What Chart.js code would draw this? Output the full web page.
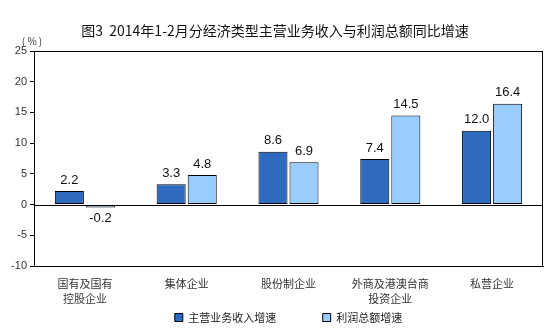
<!DOCTYPE html>
<html>
<head>
<meta charset="utf-8">
<script src="https://cdn.jsdelivr.net/npm/chart.js@4/dist/chart.umd.min.js"></script>
<style>
  html, body { margin: 0; padding: 0; background: #fff; }
  #wrap { width: 554px; height: 330px; position: relative; }
</style>
</head>
<body>
<div id="wrap"><canvas id="c" width="554" height="330"></canvas></div>
<script>
// 图表数据
const categories = [["国有及国有", "控股企业"], "集体企业", "股份制企业", ["外商及港澳台商", "投资企业"], "私营企业"];
const revenueGrowth = [2.2, 3.3, 8.6, 7.4, 12.0];
const profitGrowth = [-0.2, 4.8, 6.9, 14.5, 16.4];
const seriesNames = ["主营业务收入增速", "利润总额增速"];
const yTicks = [-10, -5, 0, 5, 10, 15, 20, 25];

const TITLE = "图3  2014年1-2月分经济类型主营业务收入与利润总额同比增速";
const CJK = '"Noto Sans CJK SC", "Liberation Sans", sans-serif';
const PAD_BOTTOM = -3; // 图例略往下移

// 标题、单位、边框、零线和数值标签
const decor = {
  id: "decor",
  afterDraw(chart) {
    const { ctx, chartArea: a, scales } = chart;
    ctx.save();
    ctx.fillStyle = "#111";
    ctx.font = "14px " + CJK;
    ctx.textAlign = "center";
    ctx.textBaseline = "middle";
    ctx.fillText(TITLE, 275, 31);

    ctx.font = "10px " + CJK;
    ctx.fillStyle = "#333";
    ctx.fillText("( % )", 32, 41);

    ctx.strokeStyle = "#000";
    ctx.lineWidth = 1;
    ctx.strokeRect(Math.round(a.left) + 0.5, Math.round(a.top) + 0.5, Math.round(a.right - a.left) - 1, Math.round(a.bottom - a.top));

    const y0 = Math.round(scales.y.getPixelForValue(0)) + 0.5;
    ctx.beginPath();
    ctx.moveTo(a.left, y0);
    ctx.lineTo(a.right, y0);
    ctx.stroke();

    ctx.font = '13px "Liberation Sans", Arial, sans-serif';
    ctx.fillStyle = "#111";
    chart.data.datasets.forEach((ds, i) => {
      chart.getDatasetMeta(i).data.forEach((bar, j) => {
        const v = ds.data[j];
        const y = v >= 0 ? bar.y - 11 : bar.y + 11;
        ctx.fillText(v.toFixed(1), bar.x, y);
      });
    });
    ctx.restore();
  }
};

new Chart(document.getElementById("c"), {
  type: "bar",
  data: {
    labels: categories,
    datasets: [
      { label: seriesNames[0] + "\u3000\u3000\u3000\u3000 ", data: revenueGrowth, backgroundColor: "#2E6BBE", borderColor: "#000", borderWidth: 1, borderSkipped: false },
      { label: seriesNames[1], data: profitGrowth, backgroundColor: "#99CCFF", borderColor: "#000", borderWidth: 1, borderSkipped: false }
    ]
  },
  options: {
    responsive: false,
    animation: false,
    layout: { padding: { top: 51, right: 11, left: 0, bottom: PAD_BOTTOM } },
    datasets: { bar: { categoryPercentage: 0.61, barPercentage: 0.935, minBarLength: 3 } },
    plugins: {
      legend: {
        position: "bottom",
        fullSize: false,
        labels: {
          font: { size: 11, family: CJK },
          color: "#222",
          boxWidth: 8,
          boxHeight: 8,
          padding: 0,
          useBorderRadius: false
        }
      },
      tooltip: { enabled: false }
    },
    scales: {
      x: {
        afterFit(scale) { scale.height = scale.chart.height - PAD_BOTTOM - 266 - (scale.chart.legend.height || 21); },
        grid: { display: false },
        border: { display: true, color: "#000" },
        ticks: { font: { size: 11, family: CJK, lineHeight: 1.3 }, color: "#333", maxRotation: 0, padding: 3 }
      },
      y: {
        min: -10,
        max: 25,
        afterBuildTicks(scale) { scale.ticks = yTicks.map(v => ({ value: v })); },
        afterFit(scale) { scale.width = 34; },
        grid: { drawOnChartArea: false, tickLength: 4, color: "#000" },
        border: { display: true, color: "#000" },
        ticks: { font: { size: 11, family: '"Liberation Sans", Arial, sans-serif' }, color: "#333", padding: 3 }
      }
    }
  },
  plugins: [decor]
});
</script>
</body>
</html>
